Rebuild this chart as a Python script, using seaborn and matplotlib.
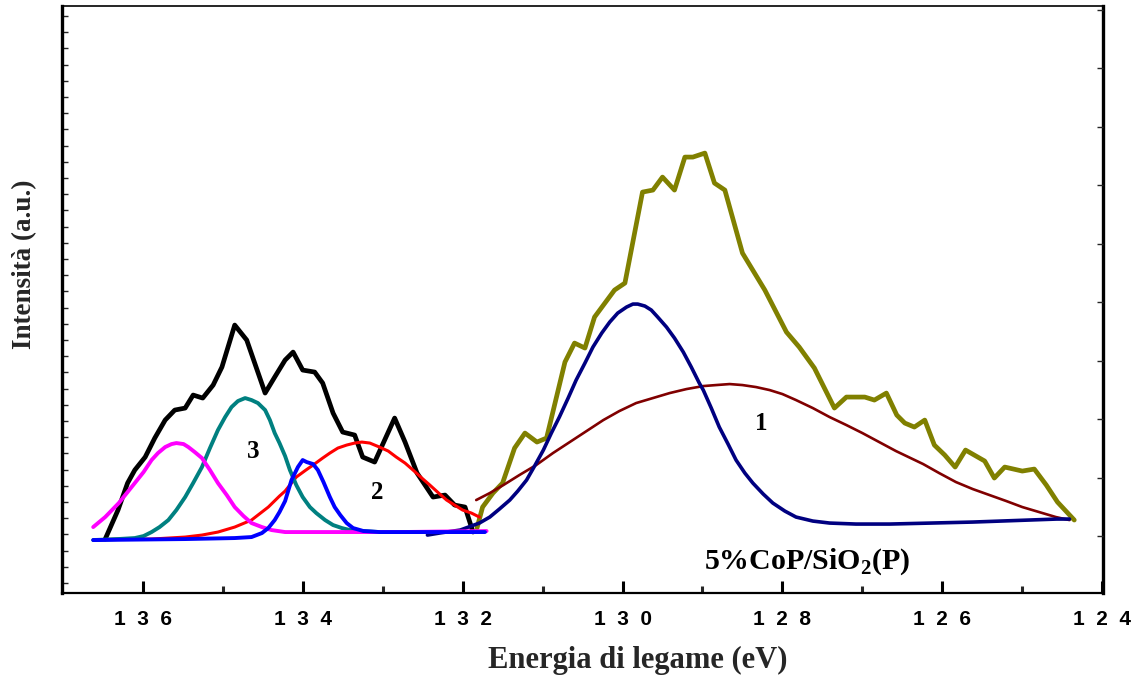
import numpy as np
import matplotlib
matplotlib.use("Agg")
import matplotlib.pyplot as plt
import seaborn as sns

# ---------------- data ----------------
# black experimental envelope (left region)
black_x = [136.47, 136.31, 136.19, 136.10, 135.97, 135.85, 135.72, 135.60, 135.47, 135.37,
           135.25, 135.12, 135.01, 134.85, 134.70, 134.47, 134.35, 134.22, 134.12, 134.00,
           133.85, 133.75, 133.62, 133.50, 133.35, 133.25, 133.10, 132.85, 132.72, 132.57,
           132.37, 132.22, 132.10, 131.97, 131.87]
black_y = [54, 83, 110, 123, 136, 155, 173, 183, 185, 198,
           195, 208, 226, 268, 253, 200, 216, 233, 241, 223,
           221, 210, 180, 161, 158, 136, 131, 175, 151, 120,
           96, 98, 88, 86, 61]

magenta_x = [136.62, 136.47, 136.30, 136.20, 136.10, 135.99, 135.89, 135.81, 135.72, 135.64,
             135.58, 135.49, 135.43, 135.35, 135.26, 135.16, 135.06, 134.95, 134.85, 134.74,
             134.64, 134.51, 134.39, 134.22, 133.66, 132.79, 131.70]
magenta_y = [66, 76, 90, 100, 110, 121, 133, 140, 146, 149,
             150, 149, 146, 141, 135, 123, 110, 98, 86, 77,
             70, 66, 63, 61, 61, 61, 62]

teal_x = [136.62, 136.31, 136.10, 135.99, 135.89, 135.79, 135.68, 135.58, 135.47, 135.37,
          135.26, 135.16, 135.06, 134.97, 134.89, 134.81, 134.72, 134.64, 134.56, 134.47,
          134.41, 134.35, 134.29, 134.22, 134.16, 134.08, 134.00, 133.91, 133.83, 133.72,
          133.62, 133.51, 133.41, 133.24, 133.04]
teal_y = [53, 54, 55, 57, 61, 66, 73, 83, 96, 110,
          126, 145, 163, 176, 186, 192, 195, 193, 190, 183,
          173, 160, 150, 137, 123, 108, 96, 86, 80, 73,
          68, 65, 63, 62, 61]

red_x = [136.62, 136.31, 135.89, 135.47, 135.26, 135.06, 134.85, 134.64, 134.43, 134.29,
         134.22, 134.18, 134.08, 133.96, 133.87, 133.75, 133.66, 133.56, 133.45, 133.35,
         133.26, 133.16, 133.04, 132.93, 132.83, 132.72, 132.62, 132.51, 132.41, 132.30,
         132.20, 132.10, 132.00, 131.89, 131.79]
red_y = [53, 54, 54, 56, 58, 61, 66, 73, 86, 97,
         102, 106, 116, 123, 128, 135, 140, 145, 148, 150,
         151, 150, 146, 142, 136, 130, 123, 115, 108, 100,
         93, 88, 83, 80, 76]

blue_x = [136.62, 135.47, 134.85, 134.64, 134.51, 134.43, 134.35, 134.29, 134.22, 134.14,
          134.06, 134.00, 133.95, 133.87, 133.81, 133.74, 133.66, 133.60, 133.53, 133.45,
          133.37, 133.24, 133.04, 131.72]
blue_y = [53, 54, 55, 56, 60, 65, 73, 81, 92, 113,
          126, 133, 131, 129, 123, 111, 96, 86, 78, 70,
          65, 62, 61, 61]

# olive experimental envelope (right region)
olive_x = [131.82, 131.75, 131.62, 131.50, 131.35, 131.22, 131.07, 130.95, 130.72, 130.60,
           130.47, 130.35, 130.10, 129.97, 129.75, 129.62, 129.50, 129.35, 129.22, 129.12,
           128.97, 128.85, 128.72, 128.50, 128.22, 127.95, 127.79, 127.60, 127.35, 127.20,
           126.97, 126.85, 126.70, 126.57, 126.47, 126.35, 126.22, 126.10, 125.97, 125.84,
           125.71, 125.47, 125.35, 125.22, 125.00, 124.85, 124.70, 124.56, 124.35]
olive_y = [65, 86, 100, 110, 145, 160, 151, 155, 231, 250,
           245, 276, 303, 310, 401, 403, 416, 403, 436, 436,
           440, 410, 403, 340, 303, 261, 246, 225, 185, 196,
           196, 193, 200, 178, 170, 166, 173, 148, 138, 126,
           143, 132, 115, 126, 122, 124, 108, 91, 73]

navy_x = [132.44, 132.29, 132.03, 131.79, 131.66, 131.54, 131.41, 131.31, 131.20, 131.10,
          130.99, 130.89, 130.79, 130.68, 130.58, 130.47, 130.37, 130.26, 130.16, 130.06,
          129.95, 129.87, 129.81, 129.72, 129.64, 129.56, 129.45, 129.35, 129.24, 129.14,
          129.04, 128.99, 128.89, 128.79, 128.68, 128.58, 128.47, 128.37, 128.24, 128.12,
          127.97, 127.83, 127.62, 127.41, 127.08, 126.66, 125.62, 124.57, 124.41]
navy_y = [58, 60, 63, 70, 76, 84, 93, 102, 113, 127,
          143, 160, 176, 195, 213, 230, 246, 260, 271, 280,
          286, 289, 289, 287, 283, 276, 266, 255, 241, 226,
          210, 203, 185, 166, 149, 133, 120, 110, 99, 90,
          82, 76, 72, 70, 69, 69, 71, 74, 74]

maroon_x = [131.83, 131.66, 131.49, 131.29, 131.08, 130.87, 130.66, 130.45, 130.24, 130.04,
            129.83, 129.62, 129.41, 129.20, 128.99, 128.83, 128.66, 128.50, 128.33, 128.16,
            128.00, 127.83, 127.62, 127.41, 127.20, 127.00, 126.79, 126.58, 126.24,
            126.04, 125.83, 125.62, 125.41, 125.20, 125.00, 124.79, 124.58, 124.41]
maroon_y = [93, 100, 108, 118, 128, 140, 151, 162, 173, 182,
            190, 195, 200, 204, 207, 208, 209, 208, 206, 203,
            199, 193, 185, 176, 168, 160, 151, 142, 129,
            120, 111, 104, 98, 92, 86, 81, 76, 73]

xticks = [136, 134, 132, 130, 128, 126, 124]
xtick_labels = ["1  3  6", "1  3  4", "1  3  2", "1  3  0", "1  2  8", "1  2  6", "1  2  4"]
xminor = [135, 133, 131, 129, 127, 125]

peak_labels = ["1", "2", "3"]
peak_label_x = [128.26, 133.07, 134.62]
peak_label_y = [170, 101, 142]
sample_label = "5%CoP/SiO$_\\mathbf{2}$(P)"

# ---------------- figure ----------------
sns.set_theme(style="white")
plt.rcParams["font.family"] = ["Liberation Serif", "DejaVu Serif"]
plt.rcParams["mathtext.fontset"] = "custom"
plt.rcParams["mathtext.rm"] = "Liberation Serif"
plt.rcParams["mathtext.bf"] = "Liberation Serif:bold"

fig = plt.figure(figsize=(11.38, 6.77), dpi=100)
ax = fig.add_axes([0.0545, 0.124, 0.9148, 0.867])

curves = [
    (black_x, black_y, "#000000", 3.4),
    (olive_x, olive_y, "#808000", 3.4),
    (maroon_x, maroon_y, "#800000", 1.9),
    (navy_x, navy_y, "#000080", 2.6),
    (red_x, red_y, "#FF0000", 2.2),
    (teal_x, teal_y, "#008080", 2.8),
    (magenta_x, magenta_y, "#FF00FF", 2.8),
    (blue_x, blue_y, "#0000FF", 2.8),
]
for xs, ys, col, lw in curves:
    sns.lineplot(x=xs, y=ys, sort=False, estimator=None, color=col, lw=lw, ax=ax)

ax.set_xlim(137.01, 123.99)
ax.set_ylim(0, 587)

ax.set_xticks(xticks)
ax.set_xticklabels(xtick_labels, fontfamily="Liberation Sans", fontweight="bold", fontsize=15)
ax.set_xticks(xminor, minor=True)
ax.tick_params(axis="x", which="major", direction="in", length=9, width=2.2, pad=12,
               bottom=True, top=False, colors="black")
ax.tick_params(axis="x", which="minor", direction="in", length=5, width=2.2, bottom=True, top=False)

ax.set_yticks(np.arange(10, 580, 16.2))
ax.set_yticklabels([])
ax.tick_params(axis="y", which="major", direction="in", length=4, width=1.0,
               left=True, right=False)

axr = ax.twinx()
axr.set_ylim(0, 587)
axr.set_yticks(np.arange(57, 587, 58.5))
axr.set_yticklabels([])
axr.tick_params(axis="y", direction="in", length=4, width=1.0, right=True, left=False)
for s in axr.spines.values():
    s.set_visible(False)

for side, w in [("left", 2.4), ("bottom", 1.6), ("right", 2.4), ("top", 1.2)]:
    ax.spines[side].set_visible(True)
    ax.spines[side].set_color("black")
    ax.spines[side].set_linewidth(w)

ax.set_xlabel("")
ax.set_ylabel("")

for lab, lx, ly in zip(peak_labels, peak_label_x, peak_label_y):
    ax.text(lx, ly, lab, fontsize=18, fontweight="bold", ha="center", va="center",
            color="black")
ax.text(127.69, 31, sample_label, fontsize=21.5, fontweight="bold", ha="center", va="center",
        color="black")

fig.text(0.5606, 0.025, "Energia di legame (eV)", fontsize=22, fontweight="bold",
         ha="center", va="center")
fig.text(0.022, 0.609, "Intensità (a.u.)", fontsize=19.5, fontweight="bold",
         ha="center", va="center", rotation=90)

fig.savefig("out.png", dpi=100)
